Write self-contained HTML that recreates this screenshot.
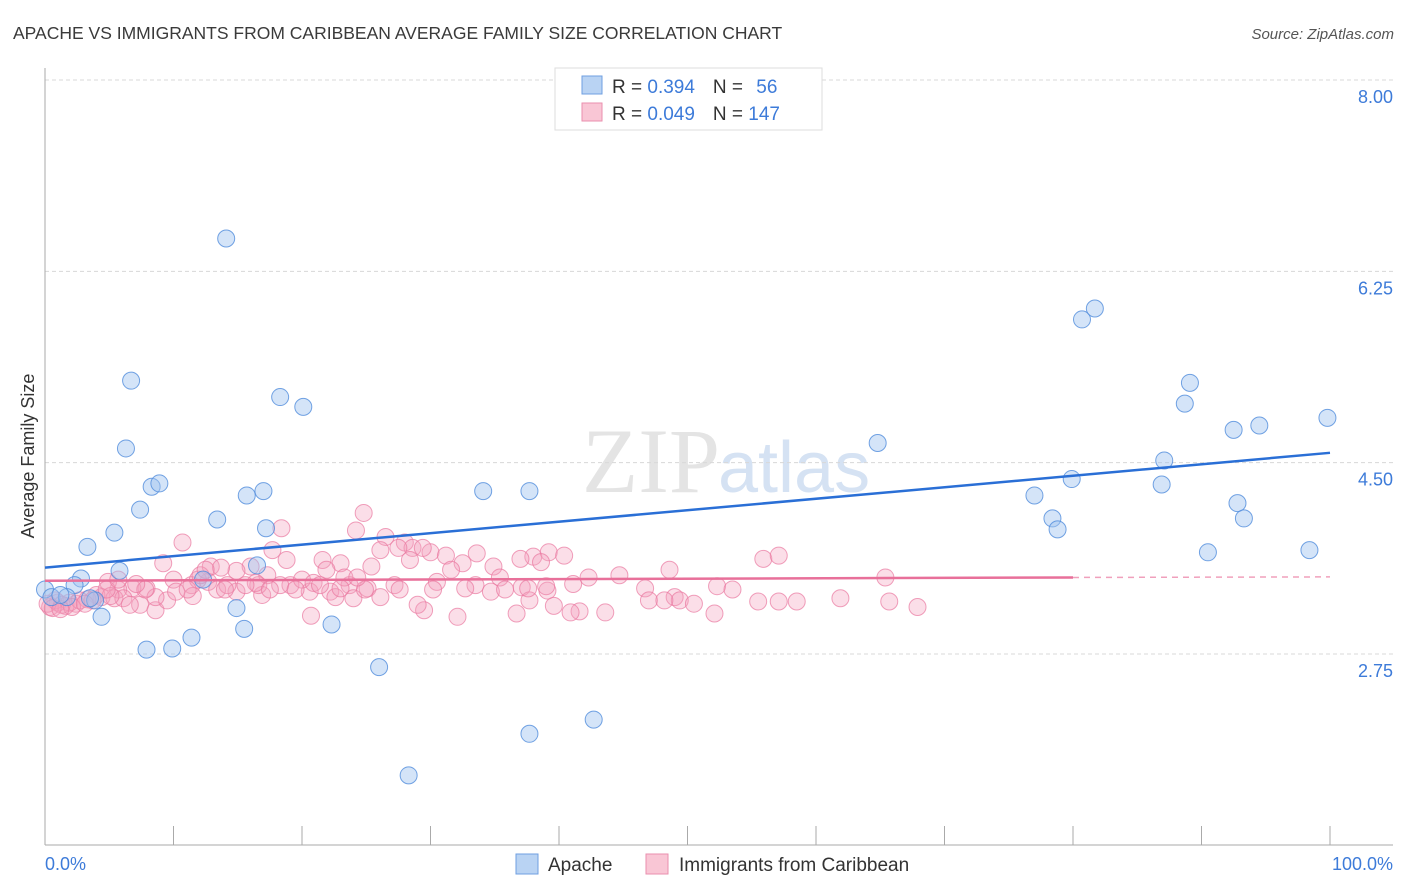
<!DOCTYPE html>
<html><head><meta charset="utf-8"><style>
body{margin:0;background:#fff;font-family:"Liberation Sans",sans-serif;}
#wrap{position:relative;width:1406px;height:892px;overflow:hidden;}
</style></head><body>
<div id="wrap">
<svg id="svg" width="1406" height="892" xmlns="http://www.w3.org/2000/svg">
<text x="13" y="39" font-size="17.5" fill="#3a3a3a">APACHE VS IMMIGRANTS FROM CARIBBEAN AVERAGE FAMILY SIZE CORRELATION CHART</text>
<text x="1394" y="39" font-size="15" fill="#555" font-style="italic" text-anchor="end">Source: ZipAtlas.com</text>
<text x="720" y="492" font-size="92" fill="#e4e4e4" text-anchor="end" font-family="Liberation Serif, serif">ZIP</text>
<text x="718" y="492" font-size="72" fill="#d5e2f3">atlas</text>
<g id="grid"></g><g id="axes"></g><g id="pts"></g><g id="trends"></g>
<text transform="translate(34,456) rotate(-90)" font-size="18" fill="#333" text-anchor="middle">Average Family Size</text>
<text x="45" y="870" font-size="18" fill="#3d7bd9">0.0%</text>
<text x="1393" y="870" font-size="18" fill="#3d7bd9" text-anchor="end">100.0%</text>
<g>
<rect x="555" y="68" width="267" height="62" fill="#fff" stroke="#ddd"/>
<rect x="582" y="76" width="20" height="18" fill="#b9d3f3" stroke="#6f9fe0"/>
<rect x="582" y="103" width="20" height="18" fill="#f9c6d5" stroke="#ea8fae"/>
<text x="612" y="93" font-size="19" fill="#333">R = <tspan fill="#3d7bd9"> 0.394</tspan><tspan dx="18">N = </tspan><tspan fill="#3d7bd9" dx="8">56</tspan></text>
<text x="612" y="120" font-size="19" fill="#333">R = <tspan fill="#3d7bd9">0.049</tspan><tspan dx="18">N = </tspan><tspan fill="#3d7bd9">147</tspan></text>
</g>
<g>
<rect x="516" y="854" width="22" height="20" fill="#b9d3f3" stroke="#6f9fe0"/>
<text x="548" y="871" font-size="19" fill="#333">Apache</text>
<rect x="646" y="854" width="22" height="20" fill="#f9c6d5" stroke="#ea8fae"/>
<text x="679" y="871" font-size="19" fill="#333">Immigrants from Caribbean</text>
</g>
</svg>
</div>
<script>
const yTicks=[8.00,6.25,4.50,2.75];
const yTickLabels=["8.00","6.25","4.50","2.75"];
const apacheX=[14.1,6.7,18.3,20.1,6.3,8.3,8.9,7.4,5.4,3.3,13.4,15.7,17.0,17.2,5.8,2.8,2.3,0,0.5,1.7,3.9,12.3,16.5,14.9,4.4,22.3,15.5,11.4,7.9,9.9,26.0,34.1,37.7,64.8,37.7,42.7,28.3,80.7,81.7,89.1,88.7,92.5,94.5,99.8,87.1,79.9,86.9,77.0,78.4,78.8,92.8,93.3,90.5,98.4,1.2,3.5];
const apacheY=[6.55,5.25,5.10,5.01,4.63,4.28,4.31,4.07,3.86,3.73,3.98,4.20,4.24,3.90,3.51,3.44,3.38,3.34,3.27,3.27,3.24,3.43,3.56,3.17,3.09,3.02,2.98,2.90,2.79,2.80,2.63,4.24,4.24,4.68,2.02,2.15,1.64,5.81,5.91,5.23,5.04,4.80,4.84,4.91,4.52,4.35,4.30,4.20,3.99,3.89,4.13,3.99,3.68,3.70,3.29,3.26];
const caribX=[10.7,12.9,9.2,18.4,17.7,24.8,24.2,26.5,28.0,28.6,30.0,31.2,33.6,38.0,39.2,40.4,38.6,37.0,34.9,32.5,28.4,26.1,23.0,21.6,21.9,25.4,17.3,16.0,14.9,13.7,12.7,11.4,10.0,7.9,6.8,5.7,4.9,4.4,5.4,7.4,8.6,9.5,11.5,13.4,14.9,16.9,19.1,20.6,22.2,23.7,25.1,27.2,30.5,31.6,33.5,35.4,37.1,39.1,41.1,42.3,44.7,46.7,48.6,52.3,53.5,65.4,55.9,57.1,47.0,49.0,49.4,50.5,52.1,55.5,57.1,58.5,61.9,65.7,67.9,41.6,39.6,37.7,36.7,32.1,29.5,29.0,20.7,14.2,11.9,16.6,20.0,23.3,18.3,27.6,34.7,37.6,40.9,43.6,48.2,20.9,16.4,22.6,24.0,26.1,8.6,6.1,4.0,3.3,2.4,1.6,1.0,0.4,0.8,1.9,2.7,1.3,3.7,5.1,6.6,7.8,10.2,11.1,12.1,14.0,15.6,17.5,19.5,21.4,23.0,24.9,30.2,32.7,35.8,39.0,0.2,0.6,2.1,1.2,3.1,4.8,5.7,7.1,12.5,18.8,27.5,29.4,24.3];
const caribY=[3.77,3.55,3.58,3.90,3.70,4.04,3.88,3.82,3.77,3.72,3.68,3.65,3.67,3.64,3.68,3.65,3.59,3.62,3.55,3.58,3.61,3.70,3.58,3.61,3.52,3.55,3.47,3.55,3.51,3.54,3.41,3.38,3.43,3.35,3.35,3.34,3.41,3.27,3.26,3.20,3.15,3.24,3.28,3.34,3.32,3.29,3.38,3.32,3.32,3.38,3.35,3.38,3.41,3.52,3.38,3.45,3.36,3.33,3.39,3.45,3.47,3.35,3.52,3.37,3.34,3.45,3.62,3.65,3.24,3.27,3.24,3.21,3.12,3.23,3.23,3.23,3.26,3.23,3.18,3.14,3.19,3.24,3.12,3.09,3.15,3.20,3.10,3.38,3.43,3.38,3.43,3.45,3.38,3.34,3.32,3.35,3.13,3.13,3.24,3.40,3.40,3.27,3.26,3.27,3.27,3.26,3.29,3.25,3.21,3.19,3.22,3.18,3.24,3.22,3.24,3.20,3.24,3.28,3.20,3.34,3.32,3.34,3.47,3.34,3.38,3.34,3.34,3.38,3.35,3.34,3.34,3.35,3.34,3.37,3.21,3.17,3.18,3.16,3.21,3.34,3.43,3.39,3.52,3.61,3.72,3.72,3.45];
const apacheTrend=[3.54,4.59];
const caribTrend=[3.42,3.45,3.455];
const NS="http://www.w3.org/2000/svg";
const X0=45,X1=1330,Y8=80,PPU=109.33;
const xs=v=>X0+(X1-X0)*v/100;
const ys=v=>Y8+(8-v)*PPU;
function mk(tag,attrs,parent){const e=document.createElementNS(NS,tag);for(const k in attrs)e.setAttribute(k,attrs[k]);parent.appendChild(e);return e;}
const grid=document.getElementById('grid'),axes=document.getElementById('axes'),pts=document.getElementById('pts'),tr=document.getElementById('trends');
yTicks.forEach((t,i)=>{
 const l=mk('line',{x1:45,x2:1393,y1:ys(t),y2:ys(t),stroke:'#d8d8d8','stroke-dasharray':'4,3'},grid);
 
 
 const tx=mk('text',{x:1393,y:ys(t)+23,'font-size':18,fill:'#3d7bd9','text-anchor':'end'},grid);
 tx.textContent=yTickLabels[i];
 
 
});
const ya=mk('line',{x1:45,x2:45,y1:68,y2:845,stroke:'#aaa'},axes);


const xa=mk('line',{x1:45,x2:1393,y1:845,y2:845,stroke:'#aaa'},axes);


for(let i=0;i<=10;i++){
 const t=mk('line',{x1:xs(i*10),x2:xs(i*10),y1:826,y2:845,stroke:'#aaa'},axes);
 
 
}
caribX.forEach((v,i)=>{
 const c=mk('circle',{cx:xs(v),cy:ys(caribY[i]),r:8.5,fill:'rgba(244,160,188,0.35)',stroke:'rgba(234,120,160,0.7)','stroke-width':1},pts);
 
 
});
apacheX.forEach((v,i)=>{
 const c=mk('circle',{cx:xs(v),cy:ys(apacheY[i]),r:8.5,fill:'rgba(160,196,240,0.45)',stroke:'rgba(80,140,220,0.8)','stroke-width':1},pts);
 
 
});
const bt=mk('line',{x1:xs(0),y1:ys(apacheTrend[0]),x2:xs(100),y2:ys(apacheTrend[1]),stroke:'#2a6fd6','stroke-width':2.5},tr);


const pt=mk('line',{x1:xs(0),y1:ys(caribTrend[0]),x2:xs(80),y2:ys(caribTrend[1]),stroke:'#e8709a','stroke-width':2.5},tr);


const pd=mk('line',{x1:xs(80),y1:ys(caribTrend[1]),x2:xs(100),y2:ys(caribTrend[2]),stroke:'#f0a0bc','stroke-width':1.5,'stroke-dasharray':'6,5'},tr);


</script>
</body></html>
